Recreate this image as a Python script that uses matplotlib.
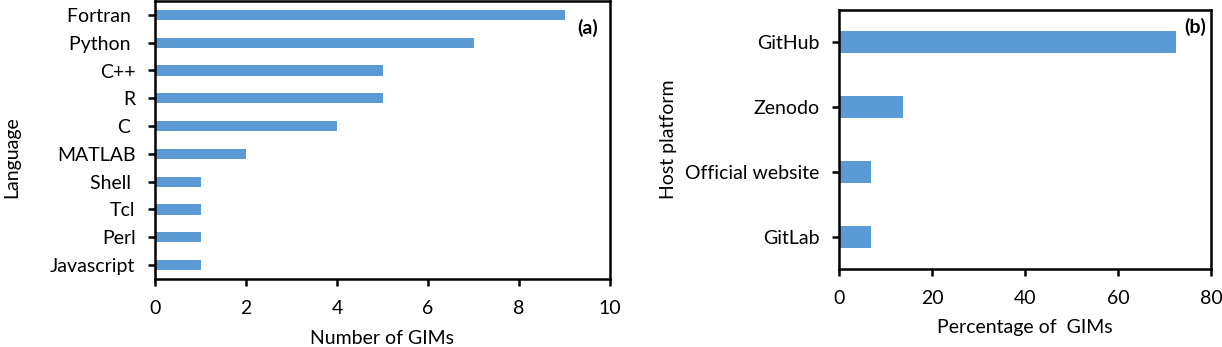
import matplotlib
matplotlib.use("Agg")
import matplotlib.pyplot as plt

plt.rcParams['font.family'] = ['Lato', 'DejaVu Sans']

languages = ["Fortran ", "Python ", "C++", "R", "C ", "MATLAB", "Shell ", "Tcl", "Perl", "Javascript"]
lang_counts = [9, 7, 5, 5, 4, 2, 1, 1, 1, 1]

platforms = ["GitHub", "Zenodo", "Official website", "GitLab"]
platform_pct = [72.4, 13.8, 6.9, 6.9]

bar_color = "#5B9BD5"
fs = 14

fig = plt.figure(figsize=(12.22, 3.47), dpi=100)

W, H = 1222, 347
def rect(l, r, t, b):
    return [l / W, (H - b) / H, (r - l) / W, (b - t) / H]

ax1 = fig.add_axes(rect(155, 610, 1, 279))
ax2 = fig.add_axes(rect(839, 1211, 10, 269))

def style(ax):
    for s in ax.spines.values():
        s.set_linewidth(1.8)
        s.set_color("black")
    ax.tick_params(axis="both", direction="out", length=5, width=1.8, labelsize=fs)
    ax.tick_params(axis="x", pad=10)
    ax.tick_params(axis="y", pad=9)

# Panel (a)
y1 = list(range(len(languages)))
ax1.barh(y1, lang_counts, height=0.36, color=bar_color)
ax1.set_yticks(y1)
ax1.set_yticklabels(languages)
ax1.set_ylim(len(languages) - 0.5, -0.5)
ax1.set_xlim(0, 10)
ax1.set_xticks([0, 2, 4, 6, 8, 10])
ax1.set_xlabel("Number of GIMs", fontsize=fs)
ax1.set_ylabel("Language", fontsize=fs)
ax1.xaxis.set_label_coords(0.5, -0.185)
ax1.yaxis.set_label_coords(-0.297, 0.439)
style(ax1)
ax1.text(0.951, 0.903, "(a)", transform=ax1.transAxes, fontsize=fs, fontweight="bold",
         ha="center", va="center")

# Panel (b)
y2 = list(range(len(platforms)))
ax2.barh(y2, platform_pct, height=0.34, color=bar_color)
ax2.set_yticks(y2)
ax2.set_yticklabels(platforms)
ax2.set_ylim(len(platforms) - 0.5, -0.5)
ax2.set_xlim(0, 80)
ax2.set_xticks([0, 20, 40, 60, 80])
ax2.set_xlabel("Percentage of  GIMs", fontsize=fs)
ax2.set_ylabel("Host platform", fontsize=fs)
ax2.xaxis.set_label_coords(0.5, -0.193)
ax2.yaxis.set_label_coords(-0.435, 0.5)
style(ax2)
ax2.text(0.957, 0.934, "(b)", transform=ax2.transAxes, fontsize=fs, fontweight="bold",
         ha="center", va="center")

fig.savefig("out.png", dpi=100)
